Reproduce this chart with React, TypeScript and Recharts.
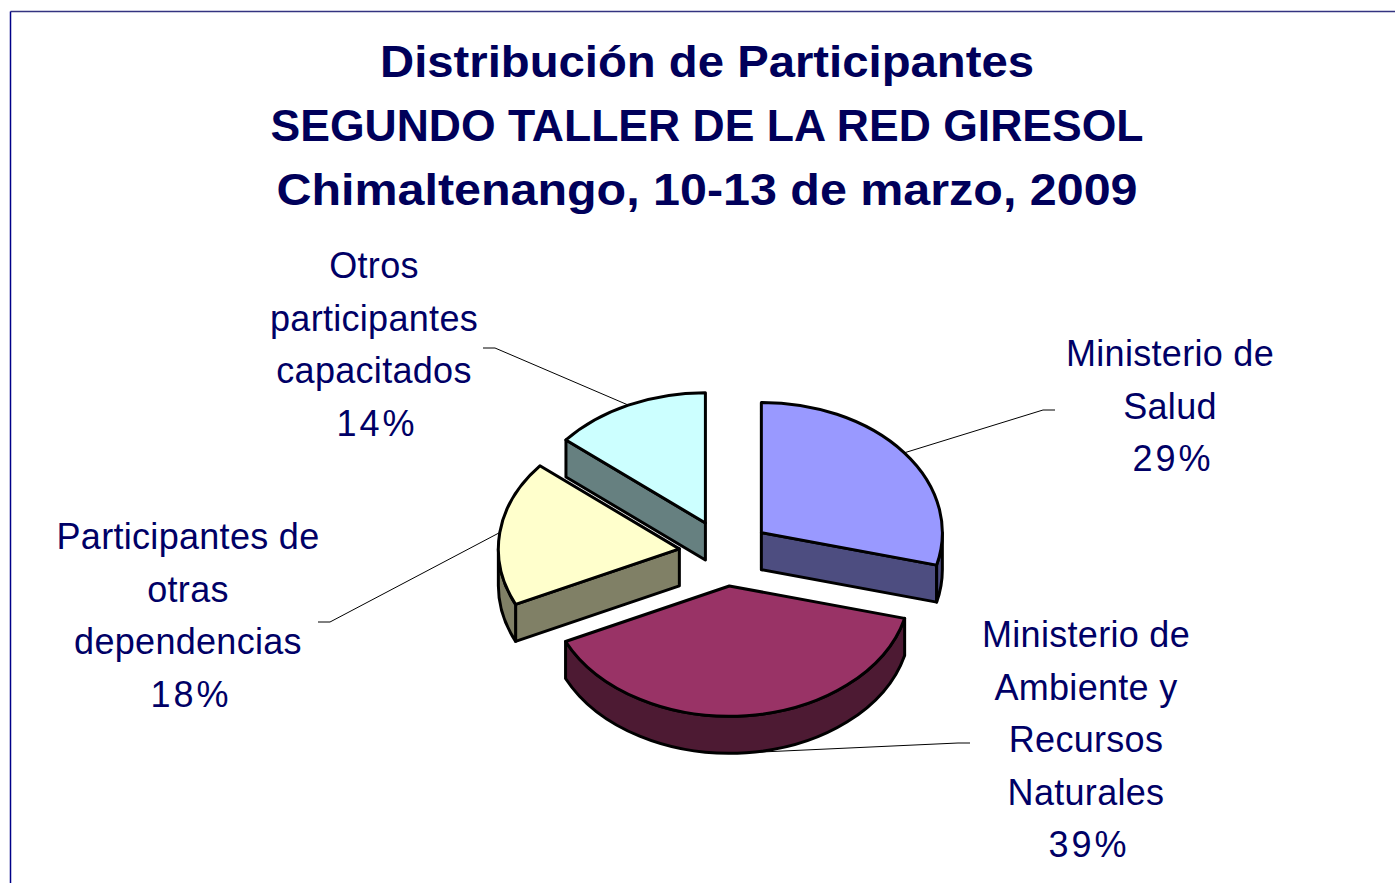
import React from "react";
import { PieChart, Pie } from "recharts";

const CATEGORIES = [
  "Ministerio de Salud",
  "Ministerio de Ambiente y Recursos Naturales",
  "Participantes de otras dependencias",
  "Otros participantes capacitados",
];
const LABEL_LINES = [
  ["Ministerio de", "Salud"],
  ["Ministerio de", "Ambiente y", "Recursos", "Naturales"],
  ["Participantes de", "otras", "dependencias"],
  ["Otros", "participantes", "capacitados"],
];
const SHARES = [29, 39, 18, 14];
const TITLE_LINES = [
  "Distribución de Participantes",
  "SEGUNDO TALLER DE LA RED GIRESOL",
  "Chimaltenango, 10-13 de marzo, 2009",
];

const TOP_COLORS = ["#9999FF", "#993366", "#FFFFCC", "#CCFFFF"];
const SIDE_COLORS = ["#4D4D80", "#4D1A33", "#808066", "#668080"];

// layout: label block centre x, first baseline, leader end point
const LABEL_LAYOUT = [
  { x: 1170, y: 366, lx: 1055, ly: 410 },
  { x: 1086, y: 647, lx: 970, ly: 743 },
  { x: 188, y: 549, lx: 318, ly: 622 },
  { x: 374, y: 278, lx: 483, ly: 348 },
];
const TITLE_LAYOUT = [
  { y: 77, w: 654 },
  { y: 141, w: 873 },
  { y: 205, w: 861 },
];
// back to front
const DRAW_ORDER = [3, 0, 2, 1];

const W = 1395;
const H = 883;
const CX = 725;
const CY = 553;
const RADIUS = 181;
const TILT = 0.72;
const DEPTH = 37;
const EXPLODE = 46;
const LINE_GAP = 52.5;
const RAD = Math.PI / 180;
const NAVY = "#000066";
const FONT = "'Liberation Sans', Arial, sans-serif";

const data = CATEGORIES.map((name, i) => ({ name, value: SHARES[i] }));

function onRim(x: number, y: number, r: number, a: number, drop = 0) {
  return [x + r * Math.cos(a * RAD), y - r * TILT * Math.sin(a * RAD) + drop];
}

function apexOf(cx: number, cy: number, mid: number) {
  return [cx + EXPLODE * Math.cos(mid * RAD), cy - EXPLODE * TILT * Math.sin(mid * RAD)];
}

const f = (n: number[]) => `${n[0].toFixed(2)},${n[1].toFixed(2)}`;

function slice3d(target: number) {
  return (p: any) => {
    const idx = CATEGORIES.indexOf(p.payload?.name ?? p.name);
    if (idx !== target) return <g />;
    const a0 = Math.min(p.startAngle, p.endAngle);
    const a1 = Math.max(p.startAngle, p.endAngle);
    const r = p.outerRadius;
    const ry = r * TILT;
    const [ax, ay] = apexOf(p.cx, p.cy, p.midAngle);
    const large = a1 - a0 > 180 ? 1 : 0;
    const top = `M${f([ax, ay])} L${f(onRim(ax, ay, r, a0))} A${r},${ry} 0 ${large} 0 ${f(onRim(ax, ay, r, a1))} Z`;

    const sides: string[] = [];
    const face = (a: number) =>
      `M${f([ax, ay])} L${f(onRim(ax, ay, r, a))} L${f(onRim(ax, ay, r, a, DEPTH))} L${f([ax, ay + DEPTH])} Z`;
    if (Math.sin((a0 - 90) * RAD) < -1e-6) sides.push(face(a0));
    if (Math.sin((a1 + 90) * RAD) < -1e-6) sides.push(face(a1));
    // curved wall, only the part facing us
    for (let n = -1; n <= 1; n++) {
      const b0 = Math.max(a0, -180 + 360 * n);
      const b1 = Math.min(a1, 360 * n);
      if (b1 - b0 > 0.01) {
        sides.push(
          `M${f(onRim(ax, ay, r, b0))} A${r},${ry} 0 0 0 ${f(onRim(ax, ay, r, b1))} ` +
            `L${f(onRim(ax, ay, r, b1, DEPTH))} A${r},${ry} 0 0 1 ${f(onRim(ax, ay, r, b0, DEPTH))} Z`
        );
      }
    }
    return (
      <g>
        {sides.map((d, i) => (
          <path key={i} d={d} fill={SIDE_COLORS[idx]} stroke="#000" strokeWidth={3} strokeLinejoin="round" />
        ))}
        <path d={top} fill={TOP_COLORS[idx]} stroke="#000" strokeWidth={3} strokeLinejoin="round" />
      </g>
    );
  };
}

function renderLabel(p: any) {
  const idx = CATEGORIES.indexOf(p.payload?.name ?? p.name);
  if (idx < 0) return <g />;
  const L = LABEL_LAYOUT[idx];
  const [ax, ay] = apexOf(p.cx, p.cy, p.midAngle);
  const front = Math.sin(p.midAngle * RAD) < 0;
  const [sx, sy] = onRim(ax, ay, p.outerRadius, p.midAngle, front ? DEPTH : 0);
  const dir = L.lx < sx ? 1 : -1;
  const pts = `${L.lx},${L.ly} ${L.lx + dir * 12},${L.ly} ${sx.toFixed(1)},${sy.toFixed(1)}`;
  const pct = Math.round((p.percent ?? SHARES[idx] / 100) * 100);
  const lines = [...LABEL_LINES[idx], `${pct}%`];
  return (
    <g key={`lbl-${idx}`}>
      <polyline points={pts} fill="none" stroke="#000" strokeWidth={1} />
      <text textAnchor="middle" fontFamily={FONT} fontSize={36} fill={NAVY}>
        {lines.map((t, i) => {
          const last = i === lines.length - 1;
          return (
            <tspan key={i} x={L.x + (last ? 3 : 0)} y={L.y + i * LINE_GAP} letterSpacing={last ? 3 : 0.3}>
              {t}
            </tspan>
          );
        })}
      </text>
    </g>
  );
}

export default function App() {
  return (
    <div style={{ position: "absolute", left: 0, top: 0, width: W, height: H, overflow: "hidden", background: "#fff" }}>
      <div style={{ position: "absolute", left: 0, top: 0 }}>
        <PieChart width={W} height={H} margin={{ top: 0, right: 0, bottom: 0, left: 0 }}>
          {DRAW_ORDER.map((target, k) => (
            <Pie
              key={target}
              data={data}
              dataKey="value"
              nameKey="name"
              cx={CX}
              cy={CY}
              outerRadius={RADIUS}
              startAngle={90}
              endAngle={-270}
              stroke="none"
              isAnimationActive={false}
              shape={slice3d(target)}
              inactiveShape={slice3d(target)}
              activeShape={slice3d(target)}
              label={k === DRAW_ORDER.length - 1 ? renderLabel : false}
              labelLine={false}
            />
          ))}
        </PieChart>
      </div>
      <svg width={W} height={H} style={{ position: "absolute", left: 0, top: 0, pointerEvents: "none" }}>
        <line x1={10.5} y1={11.5} x2={W} y2={11.5} stroke="#333380" strokeWidth={1.5} />
        <line x1={10.5} y1={11.5} x2={10.5} y2={H} stroke="#000088" strokeWidth={1.5} />
        {TITLE_LINES.map((t, i) => (
          <text
            key={i}
            x={707}
            y={TITLE_LAYOUT[i].y}
            textAnchor="middle"
            fontFamily={FONT}
            fontWeight="bold"
            fontSize={44}
            fill="#00005A"
            textLength={TITLE_LAYOUT[i].w}
            lengthAdjust="spacingAndGlyphs"
          >
            {t}
          </text>
        ))}
      </svg>
    </div>
  );
}
